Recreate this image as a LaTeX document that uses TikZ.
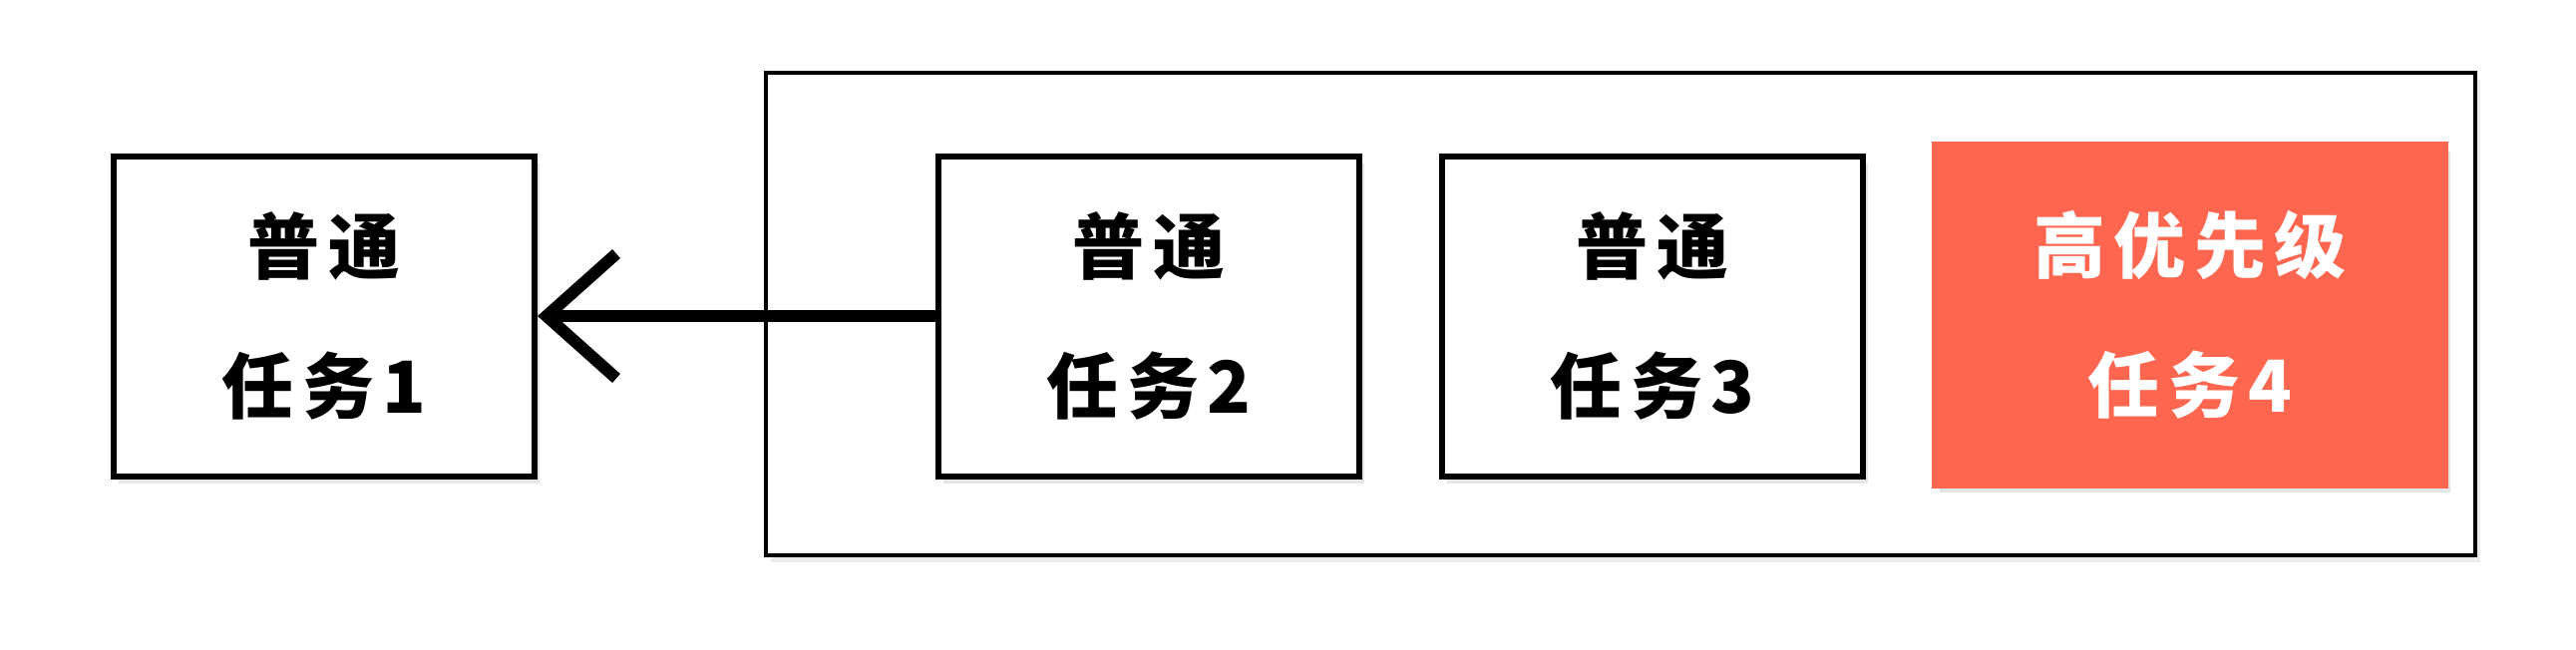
\documentclass[tikz,border=0pt]{standalone}
\usepackage{fontspec}
\newfontfamily\cjk[LetterSpace=12]{Noto Sans CJK SC}
\usetikzlibrary{arrows.meta,shadows}
\definecolor{hired}{HTML}{FF6650}

\begin{document}
\begin{tikzpicture}[x=1pt,y=-1pt,
    taskbox/.style={draw=black,line width=6pt,fill=white,inner sep=0pt,
      minimum width=422pt,minimum height=321pt,align=center,
      font=\cjk\bfseries\fontsize{72}{140}\selectfont,
      drop shadow={shadow xshift=5pt,shadow yshift=-7pt,opacity=0.2}},
    hibox/.style={taskbox,draw=hired,fill=hired,text=white,
      minimum width=512pt,minimum height=342pt},
    queue/.style={draw=black,line width=3.5pt,inner sep=0pt,
      minimum width=1714pt,minimum height=484pt,
      drop shadow={shadow xshift=5pt,shadow yshift=-7pt,opacity=0.15,fill=gray}}]
    \useasboundingbox (0,0) rectangle (2583,651);
    % queue of waiting tasks
    \node[queue,fill=white] (wait) at (1625,315) {};
    \node[taskbox] (t1) at (325,317) {普通\\任务1};
    \node[taskbox] (t2) at (1152,317) {普通\\任务2};
    \node[taskbox] (t3) at (1657,317) {普通\\任务3};
    \node[hibox] (t4) at (2196,316) {高优先级\\任务4};
    % next task taken
    \draw[line width=12pt,-{Straight Barb[length=70pt,width=125pt]}] (t2.west)--(t1.east);
  \end{tikzpicture}
\end{document}
